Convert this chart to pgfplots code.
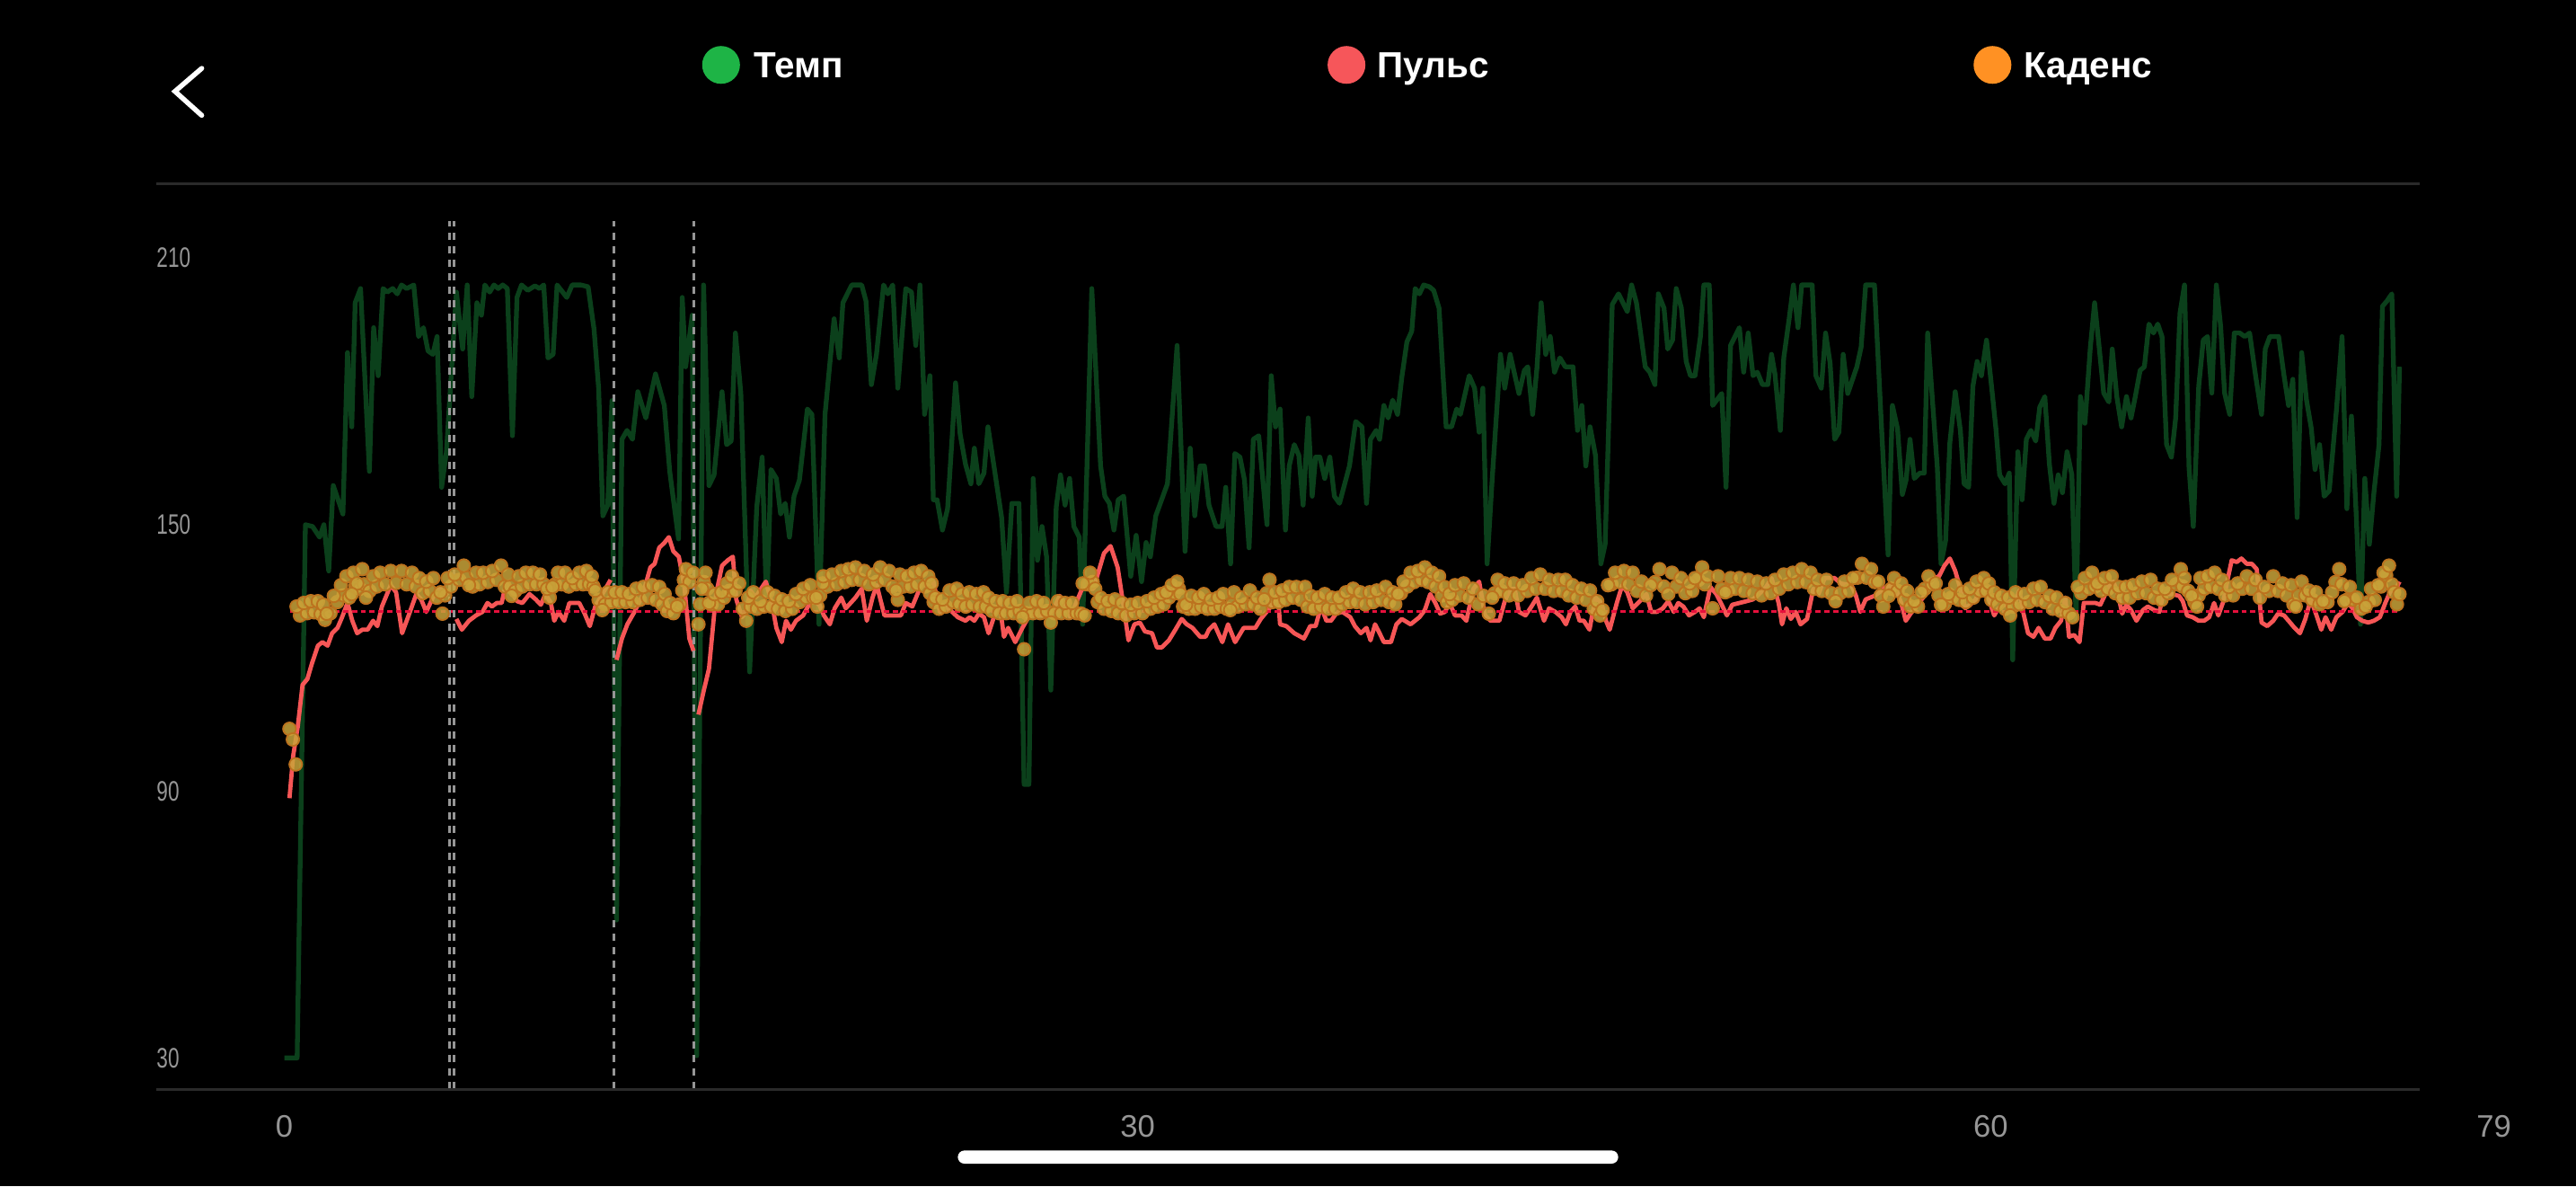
\documentclass[border=0pt]{standalone}
\usepackage{fontspec}
\setmainfont{Liberation Sans}
\usepackage{graphicx}
\usepackage{pgfplots}
\pgfplotsset{compat=1.18}
\usepackage{pgfplotstable}
\definecolor{tempo}{RGB}{11,64,27}
\definecolor{pulse}{RGB}{246,86,86}
\definecolor{cadfill}{RGB}{202,164,58}
\definecolor{cadedge}{RGB}{188,114,30}
\definecolor{lgreen}{RGB}{30,180,70}
\definecolor{lred}{RGB}{246,86,90}
\definecolor{lorange}{RGB}{255,145,35}
\definecolor{thr}{RGB}{230,16,60}
\definecolor{lap}{RGB}{150,150,150}
\definecolor{sep}{RGB}{42,42,42}
\definecolor{ticklab}{RGB}{150,150,150}

\pgfplotstableread{
x y
0.00 30.0
0.45 30.0
0.74 149.9
0.99 149.5
1.24 147.1
1.39 149.9
1.56 139.5
1.72 158.7
2.06 152.3
2.22 188.6
2.37 171.9
2.49 199.8
2.68 203.0
2.99 161.9
3.14 194.2
3.30 183.4
3.47 203.0
3.62 202.2
3.81 203.0
3.97 201.8
4.12 203.8
4.30 203.0
4.55 203.8
4.72 192.2
4.89 194.2
5.05 189.0
5.22 188.2
5.37 192.2
5.53 158.3
5.70 166.3
6.05 202.2
6.27 189.4
6.43 203.8
6.59 178.7
6.77 199.8
6.93 197.0
7.05 203.8
7.22 202.2
7.37 203.8
7.52 203.0
7.68 203.8
7.84 203.0
8.02 169.9
8.18 201.0
8.34 203.8
8.56 202.6
8.81 203.6
8.97 203.0
9.12 203.8
9.27 187.4
9.45 188.2
9.59 203.8
9.93 201.0
10.12 203.8
10.43 203.8
10.68 203.4
10.89 193.8
11.05 180.6
11.20 151.9
11.37 154.3
11.52 177.8
11.68 61.0
11.87 169.1
12.05 171.1
12.24 169.1
12.43 179.8
12.71 173.9
13.05 183.8
13.36 176.7
13.55 161.9
13.86 146.7
13.99 201.0
14.11 185.4
14.34 197.0
14.50 30.5
14.74 203.8
14.93 158.7
15.11 161.1
15.39 179.8
15.55 167.9
15.71 168.7
15.86 193.0
16.05 179.5
16.36 116.8
16.61 153.9
16.80 165.1
16.96 130.7
17.11 162.3
17.30 160.3
17.45 152.3
17.61 154.7
17.76 147.1
17.92 156.3
18.11 159.9
18.39 175.9
18.55 174.7
18.80 127.5
19.01 174.7
19.33 196.2
19.51 187.4
19.64 199.8
19.95 203.8
20.30 203.8
20.45 200.2
20.64 181.4
20.82 188.2
21.07 203.8
21.22 201.8
21.39 203.8
21.57 180.6
21.85 203.0
22.05 202.2
22.20 190.2
22.35 203.8
22.51 174.7
22.70 183.4
22.82 155.5
22.95 155.5
23.14 148.7
23.32 153.5
23.60 181.8
23.76 170.3
23.95 163.5
24.14 159.1
24.26 167.1
24.42 159.1
24.60 161.5
24.74 171.9
24.95 163.1
25.22 151.5
25.39 134.7
25.58 154.7
25.83 154.7
26.01 91.5
26.18 91.5
26.33 160.3
26.48 141.9
26.64 149.5
26.80 142.7
26.95 112.7
27.14 153.9
27.29 161.1
27.45 154.3
27.61 160.3
27.76 149.5
27.95 147.1
28.07 127.5
28.39 203.0
28.70 163.1
28.85 156.3
29.01 154.7
29.17 148.7
29.32 155.5
29.51 156.3
29.76 138.3
29.95 147.5
30.14 137.1
30.30 145.9
30.45 142.7
30.64 151.9
31.05 159.1
31.39 190.2
31.67 143.9
31.85 167.1
32.01 151.9
32.20 163.1
32.35 163.1
32.51 154.3
32.76 149.5
32.97 149.5
33.10 158.3
33.27 141.1
33.42 165.9
33.60 165.1
33.76 159.9
33.92 144.7
34.07 169.1
34.26 169.9
34.55 149.9
34.70 183.4
34.85 171.9
35.01 175.9
35.20 148.7
35.33 163.1
35.51 167.9
35.67 165.5
35.82 154.3
36.00 173.9
36.14 156.3
36.26 165.1
36.41 165.1
36.58 160.3
36.76 165.1
36.92 156.3
37.10 154.7
37.45 163.1
37.67 173.1
37.89 171.9
38.05 154.7
38.19 169.1
38.39 171.1
38.51 169.1
38.66 176.7
38.81 173.9
38.97 177.9
39.14 174.7
39.29 183.0
39.47 191.0
39.64 193.4
39.76 203.0
39.91 201.8
40.06 203.8
40.26 203.4
40.41 202.6
40.60 198.6
40.85 171.9
41.04 171.9
41.22 175.9
41.35 174.7
41.66 183.4
41.85 180.6
42.01 170.7
42.14 180.6
42.29 141.1
42.47 160.3
42.76 188.2
42.91 180.6
43.10 188.2
43.41 179.4
43.60 184.6
43.72 185.4
43.89 174.7
44.04 185.0
44.19 199.8
44.35 188.2
44.51 192.2
44.66 184.2
44.85 187.4
45.04 185.4
45.31 185.4
45.47 171.1
45.62 176.7
45.76 163.1
45.91 171.9
46.10 165.5
46.29 141.1
46.44 145.5
46.69 199.4
46.91 201.8
47.22 197.8
47.37 203.8
47.54 199.8
47.85 185.4
48.01 184.2
48.19 181.4
48.31 201.8
48.51 198.6
48.64 189.4
48.81 191.4
48.94 203.0
49.12 198.6
49.29 186.6
49.44 183.4
49.60 183.4
49.79 192.2
49.91 203.8
50.10 203.8
50.22 176.7
50.54 179.4
50.69 158.3
50.85 190.2
51.16 194.2
51.31 184.2
51.47 193.0
51.64 183.4
51.79 184.2
51.97 181.4
52.16 181.4
52.29 188.2
52.41 183.8
52.60 171.1
52.72 187.4
52.91 196.2
53.06 203.8
53.22 194.2
53.35 203.8
53.72 203.8
53.85 183.4
54.04 180.6
54.19 193.0
54.35 186.2
54.51 169.1
54.66 170.7
54.81 188.2
54.97 179.4
55.29 185.4
55.44 189.8
55.60 203.8
55.91 203.8
56.16 171.5
56.39 143.1
56.54 176.7
56.72 171.5
56.89 156.7
57.02 159.9
57.16 169.1
57.31 160.3
57.50 161.5
57.66 161.5
57.78 193.0
57.93 179.5
58.12 162.7
58.25 141.1
58.41 146.3
58.56 168.3
58.75 179.8
58.93 171.1
59.06 159.1
59.22 158.3
59.37 181.0
59.52 186.6
59.67 183.4
59.85 191.4
60.00 182.6
60.18 171.5
60.31 161.1
60.50 159.1
60.65 161.5
60.77 119.5
60.95 166.3
61.10 155.5
61.25 169.1
61.41 171.1
61.58 168.7
61.72 176.3
61.90 178.7
62.06 163.5
62.22 154.7
62.37 161.1
62.52 157.1
62.68 166.3
62.85 161.1
63.00 128.7
63.15 178.7
63.31 172.7
63.50 189.8
63.65 199.8
63.81 189.8
63.97 179.5
64.15 177.5
64.27 189.4
64.43 178.7
64.60 171.9
64.77 178.7
64.93 173.9
65.08 178.7
65.25 184.6
65.40 185.4
65.56 195.0
65.72 193.0
65.87 195.0
66.02 192.2
66.18 167.9
66.35 165.1
66.50 173.9
66.65 197.4
66.81 203.8
66.97 162.7
67.12 149.5
67.31 181.0
67.47 191.4
67.62 192.2
67.77 179.5
67.93 203.8
68.08 194.6
68.22 179.5
68.40 174.7
68.56 193.0
68.75 193.0
68.93 192.2
69.10 193.0
69.31 183.4
69.52 174.7
69.65 189.4
69.81 192.2
70.12 192.2
70.31 183.4
70.47 176.7
70.62 182.6
70.77 151.5
70.93 188.6
71.10 177.9
71.27 171.5
71.40 162.3
71.56 167.9
71.72 156.3
71.90 157.5
72.15 175.5
72.35 192.2
72.52 153.5
72.68 174.3
72.85 151.9
73.00 127.5
73.15 160.3
73.31 145.5
73.47 157.1
73.65 167.9
73.77 199.0
73.93 200.2
74.10 201.8
74.27 156.3
74.37 185.4
}\tempotab

\pgfplotstableread{
x y
0.18 88.4
0.31 97.9
0.47 104.4
0.64 113.9
0.81 115.2
0.97 118.7
1.18 122.7
1.34 123.5
1.52 122.7
1.68 125.5
1.87 126.7
2.03 129.1
2.22 132.3
2.39 128.3
2.56 125.5
2.74 126.3
2.93 126.3
3.12 128.3
3.27 127.1
3.43 131.5
3.74 136.3
3.93 134.7
4.14 125.5
4.37 129.5
4.64 134.3
4.81 133.1
4.99 130.3
5.22 133.5
5.37 135.1
5.49 135.5
5.74 133.9
5.86 nan
6.05 128.7
6.24 126.3
6.49 128.3
6.74 129.5
6.97 130.3
7.14 132.3
7.30 131.5
7.47 132.3
7.64 132.3
7.81 137.1
7.99 134.7
8.18 132.7
8.37 132.3
8.62 134.3
8.84 133.1
9.02 131.9
9.18 134.3
9.37 132.3
9.49 128.3
9.64 130.3
9.84 128.3
10.02 132.3
10.37 132.3
10.56 129.9
10.74 127.1
10.93 131.5
11.47 137.5
11.58 nan
11.68 119.5
11.87 124.3
12.06 127.5
12.31 130.3
12.59 133.9
12.87 140.3
13.02 141.1
13.18 144.7
13.37 145.9
13.52 147.1
13.68 143.9
13.87 142.7
14.06 136.3
14.24 124.3
14.39 121.5
14.45 nan
14.56 107.2
14.74 112.4
14.93 117.5
15.18 134.3
15.39 140.7
15.59 141.9
15.77 142.7
15.89 133.1
16.09 129.1
16.24 130.3
16.39 135.1
16.56 133.5
16.72 135.1
16.93 137.1
17.14 132.3
17.30 126.7
17.49 123.5
17.64 128.3
17.81 126.3
17.99 128.3
18.24 129.5
18.55 133.1
18.81 131.9
18.97 129.5
19.18 127.5
19.35 131.1
19.58 133.5
19.74 131.1
20.08 133.5
20.30 135.5
20.48 128.3
20.68 133.5
20.83 136.3
21.10 129.5
21.68 129.5
21.85 132.3
22.08 131.5
22.39 136.3
22.60 136.3
22.82 137.1
23.05 130.3
23.26 131.5
23.48 130.3
23.68 129.1
23.95 128.3
24.10 129.1
24.26 128.3
24.42 129.9
24.60 129.1
24.76 125.5
24.95 129.1
25.14 132.7
25.30 124.7
25.45 126.7
25.70 123.5
25.95 126.7
26.20 129.5
26.58 129.5
26.95 129.5
27.26 133.9
27.45 131.9
27.64 129.1
27.89 133.1
28.05 135.5
28.45 135.5
28.82 143.5
29.05 145.1
29.30 140.3
29.51 131.5
29.68 123.9
29.89 127.5
30.08 127.9
30.26 125.9
30.51 125.5
30.68 122.3
30.85 122.3
31.10 123.9
31.33 126.3
31.55 128.7
31.73 127.5
31.93 126.7
32.20 124.7
32.39 124.7
32.51 126.3
32.70 127.5
32.98 123.5
33.18 127.5
33.43 123.5
33.73 126.7
34.14 126.7
34.33 128.7
34.64 131.1
34.93 134.3
35.01 127.5
35.23 127.1
35.51 125.5
35.85 124.3
36.07 127.1
36.26 127.1
36.45 131.5
36.64 128.3
36.80 128.3
36.98 129.9
37.20 130.3
37.48 129.1
37.64 127.1
37.85 125.5
38.05 126.7
38.19 123.9
38.35 127.5
38.51 125.5
38.66 123.5
38.91 123.5
39.10 127.5
39.29 128.7
39.60 127.5
39.91 129.1
40.10 130.7
40.29 134.3
40.47 132.3
40.64 129.9
40.81 130.3
40.97 132.3
41.16 129.5
41.39 129.5
41.56 128.3
41.81 135.5
42.01 137.1
42.22 129.5
42.41 128.3
42.72 128.3
42.91 132.7
43.10 135.5
43.26 135.5
43.41 130.3
43.64 129.5
43.85 131.5
44.04 133.5
44.29 128.3
44.47 131.1
44.69 130.3
44.91 129.1
45.06 127.5
45.22 130.3
45.39 131.5
45.54 128.3
45.69 128.3
45.89 126.3
46.10 133.5
46.31 132.3
46.47 128.3
46.60 126.3
46.85 132.3
47.04 136.3
47.22 134.7
47.41 131.1
47.66 132.7
47.89 134.3
48.06 130.3
48.26 130.3
48.47 131.1
48.66 132.7
48.85 130.3
49.01 132.3
49.19 131.5
49.39 129.5
49.60 130.3
49.76 131.1
49.91 129.1
50.14 135.9
50.35 134.3
50.51 132.3
50.72 129.5
50.91 131.9
51.16 132.3
51.41 132.7
51.64 133.1
51.85 134.3
52.10 135.9
52.29 137.9
52.54 132.3
52.66 127.5
52.81 131.1
52.97 128.7
53.14 130.3
53.31 127.5
53.54 128.7
53.76 135.5
53.94 134.3
54.16 137.9
54.51 137.9
54.72 136.7
55.10 136.3
55.26 133.9
55.41 130.3
55.60 133.1
55.91 133.9
56.16 135.1
56.41 136.3
56.66 135.5
56.85 132.3
57.01 128.3
57.18 129.9
57.37 131.5
57.62 133.5
57.81 135.9
58.00 137.9
58.18 138.3
58.37 140.7
58.56 142.3
58.75 139.5
58.93 135.5
59.10 131.1
59.27 131.9
59.47 133.1
59.62 135.5
59.77 136.3
59.93 133.1
60.12 129.5
60.27 131.1
60.50 131.9
60.68 132.7
60.85 132.3
61.00 135.1
61.15 129.9
61.31 125.5
61.50 124.7
61.68 126.7
61.90 124.3
62.10 124.3
62.27 126.7
62.47 128.3
62.62 133.5
62.75 124.7
62.93 125.1
63.12 123.5
63.27 132.3
63.50 132.3
63.68 132.3
63.85 131.9
64.00 133.9
64.15 136.3
64.31 137.1
64.47 134.3
64.62 129.9
64.77 131.9
64.93 130.7
65.12 128.3
65.35 130.7
65.52 131.5
65.75 130.7
65.93 130.3
66.06 134.3
66.37 134.3
66.62 133.9
66.75 132.7
66.90 129.5
67.10 129.1
67.31 128.3
67.50 128.3
67.68 129.1
67.85 132.3
68.00 129.5
68.18 132.7
68.31 137.1
68.47 141.9
68.65 141.5
68.81 142.3
69.00 141.1
69.18 141.1
69.35 139.9
69.52 127.9
69.72 127.1
69.93 128.3
70.10 129.9
70.31 129.5
70.47 128.3
70.68 126.7
70.87 125.5
71.06 128.7
71.25 133.1
71.43 129.9
71.62 126.3
71.77 129.1
71.97 126.3
72.15 129.1
72.37 130.3
72.56 132.3
72.72 131.1
72.87 129.1
73.06 128.3
73.27 127.9
73.47 128.3
73.68 129.1
73.87 132.3
74.06 135.1
74.22 135.1
74.37 137.1
}\pulsetab

\pgfplotstableread{
x y
0.18 104.0
0.30 101.6
0.40 96.0
0.43 131.5
0.68 132.3
0.93 132.7
1.18 132.7
1.37 131.9
1.49 129.9
1.74 133.9
1.99 136.3
2.18 138.3
2.43 139.1
2.74 139.9
2.56 136.7
2.37 134.3
2.87 133.5
3.12 138.3
3.37 139.1
3.74 139.5
4.12 139.5
4.49 139.1
4.74 137.9
4.99 137.1
5.24 137.9
5.49 134.7
5.56 129.9
5.74 137.9
5.99 138.7
6.31 140.7
6.49 136.3
6.74 139.1
6.99 139.1
7.31 139.5
7.62 140.7
7.87 138.7
7.99 133.9
8.24 138.3
8.49 139.1
8.74 139.1
8.99 138.7
9.24 135.5
9.43 135.9
9.62 139.1
9.87 139.1
10.12 137.9
10.37 139.1
10.62 139.5
10.81 138.3
10.93 135.1
11.18 130.7
11.37 134.7
11.62 134.7
11.87 134.7
12.12 134.3
12.37 135.5
12.62 135.9
12.93 136.3
13.18 135.9
13.37 134.3
13.56 132.3
13.81 131.5
13.99 135.1
14.12 139.9
14.37 139.1
14.56 127.5
14.68 135.5
14.81 139.1
14.93 132.3
15.12 134.3
15.37 134.7
15.56 136.7
15.74 138.3
15.99 136.7
16.24 128.3
16.31 133.5
16.49 134.7
16.74 132.7
16.99 134.7
17.24 133.9
17.49 133.1
17.74 132.7
17.99 134.3
18.24 135.5
18.49 136.3
18.74 131.5
18.93 136.7
18.70 133.5
18.95 138.3
19.26 138.7
19.58 139.5
19.83 139.9
20.08 140.3
20.39 139.5
20.70 138.7
20.95 140.3
21.26 139.5
21.51 135.1
21.64 138.7
21.89 138.3
22.14 139.1
22.39 139.5
22.64 138.3
22.76 136.7
22.89 133.5
23.14 133.1
23.39 135.1
23.64 135.5
23.83 134.3
24.08 134.7
24.33 134.3
24.58 134.7
24.76 133.5
25.01 132.7
25.26 132.7
25.51 132.3
25.76 132.7
25.95 129.1
26.01 121.9
26.20 132.3
26.45 132.7
26.70 132.3
26.95 127.9
27.20 132.7
27.45 132.3
27.70 132.3
28.01 129.9
28.14 129.5
28.07 136.7
28.33 139.1
28.51 135.5
28.70 133.5
28.95 132.7
29.20 133.1
29.45 132.3
29.76 131.9
30.01 132.3
30.33 132.7
30.58 133.5
30.83 134.3
31.01 134.7
31.20 136.3
31.39 137.1
31.51 134.3
31.70 131.9
31.89 133.9
32.14 133.5
32.33 134.3
32.58 133.1
32.83 133.5
33.01 134.3
33.26 130.7
33.39 134.7
33.64 133.5
33.95 135.1
34.20 133.5
34.45 133.1
34.64 137.5
34.83 134.7
35.08 135.1
35.33 135.9
35.58 135.9
35.89 135.9
36.08 133.9
36.33 133.5
36.58 134.3
36.83 133.5
37.08 133.5
37.33 134.7
37.58 135.5
37.83 134.7
38.16 134.7
38.41 135.1
38.72 135.9
38.97 134.7
39.16 134.3
39.35 137.1
39.60 139.1
39.85 139.5
40.10 140.3
40.35 139.1
40.60 138.3
40.79 135.9
40.97 134.3
41.16 136.3
41.47 136.7
41.79 135.5
42.16 133.9
42.35 129.9
42.47 133.5
42.66 137.5
42.91 136.7
43.22 136.7
43.54 136.3
43.85 137.9
44.16 138.7
44.47 137.5
44.79 137.5
45.04 137.5
45.29 136.3
45.60 135.5
45.91 135.1
46.16 132.7
46.35 130.7
46.54 136.3
46.79 139.1
47.10 139.5
47.41 139.1
47.72 137.1
48.04 136.3
48.35 139.9
48.66 134.3
48.79 139.1
49.10 137.9
49.41 136.7
49.60 137.9
49.85 140.3
50.04 138.3
50.22 131.1
50.41 138.3
50.66 134.7
50.85 137.9
51.16 137.9
51.47 137.5
51.79 137.1
52.10 136.7
52.41 137.5
52.72 138.7
53.04 139.1
53.35 139.9
53.66 139.1
53.91 137.5
54.22 137.5
54.54 132.7
54.85 137.1
55.16 137.9
55.47 141.1
55.79 139.9
56.04 137.1
56.22 131.5
56.41 133.9
56.60 137.9
56.85 136.7
57.06 135.0
57.31 132.7
57.56 134.7
57.81 138.3
58.06 136.7
58.25 131.9
58.50 134.3
58.75 136.3
59.00 134.7
59.25 135.5
59.50 137.1
59.75 137.9
59.93 136.7
60.12 134.7
60.37 133.9
60.68 129.5
60.62 133.5
60.87 134.7
61.18 134.3
61.50 135.5
61.75 135.9
62.06 133.9
62.31 133.5
62.62 132.3
62.87 129.1
63.06 135.9
63.31 137.9
63.56 139.1
63.75 136.7
64.00 137.9
64.25 138.3
64.50 135.9
64.75 135.9
65.00 136.3
65.31 137.1
65.62 137.5
65.87 135.5
66.12 135.5
66.37 137.5
66.68 139.9
66.81 137.9
67.06 133.9
67.25 131.5
67.37 137.9
67.62 138.3
67.87 139.1
68.12 137.5
68.37 135.9
68.68 136.7
69.00 138.3
69.31 137.5
69.62 135.9
69.93 138.3
70.25 136.7
70.56 136.3
70.72 131.5
70.93 137.1
71.18 135.1
71.43 134.7
71.68 132.7
72.00 134.7
72.25 139.9
72.43 132.7
72.62 135.9
72.87 133.5
73.18 131.5
73.37 135.5
73.62 136.3
73.81 139.1
74.00 140.7
74.18 134.7
74.37 134.3
}\cadtab

\pgfplotstableread{
x y
0.55 129.5
0.80 130.0
1.05 130.2
1.28 129.8
1.43 128.5
1.62 130.0
1.86 132.5
2.08 134.0
2.28 133.5
2.50 136.0
2.65 135.5
2.80 136.5
3.00 135.0
3.25 136.0
3.55 136.5
3.93 136.8
4.30 136.5
4.62 136.0
4.86 134.5
5.12 135.0
5.36 133.5
5.65 134.0
5.86 136.0
6.15 137.5
6.40 138.0
6.62 136.0
6.86 136.5
7.15 137.0
7.46 137.5
7.75 136.0
7.93 136.0
8.12 135.0
8.36 136.0
8.62 136.5
8.86 136.5
9.12 136.5
9.33 133.5
9.52 136.5
9.75 136.5
10.00 136.0
10.25 136.5
10.50 136.5
10.72 136.5
10.87 136.0
11.05 133.0
11.28 132.0
11.50 132.5
11.75 132.5
12.00 132.5
12.25 132.5
12.50 133.0
12.78 133.5
13.05 133.0
13.28 132.0
13.46 130.5
13.68 130.0
13.90 132.0
14.05 137.5
14.25 137.0
14.62 132.0
14.75 137.0
14.87 135.5
15.02 132.0
15.25 132.0
15.46 133.5
15.65 135.0
15.86 135.0
16.12 131.0
16.40 131.5
16.62 131.0
16.86 131.5
17.12 131.5
17.36 131.0
17.62 130.5
17.86 131.0
18.12 132.5
18.36 133.5
18.60 133.5
18.84 134.0
19.10 136.0
19.42 136.5
19.70 137.0
19.95 137.5
20.24 137.5
20.55 136.5
20.82 137.0
21.10 137.5
21.38 136.0
21.57 133.0
21.76 136.0
22.02 136.0
22.26 136.5
22.52 136.0
22.70 134.5
22.83 132.5
23.02 131.0
23.26 131.5
23.52 132.5
23.74 132.0
23.96 131.5
24.20 132.0
24.46 131.5
24.67 131.5
24.88 130.5
25.14 130.0
25.38 130.0
25.64 130.0
25.86 130.5
26.10 130.0
26.32 130.0
26.58 130.0
26.82 130.5
27.08 130.0
27.32 130.0
27.58 130.0
27.86 130.0
28.24 136.5
28.42 137.0
28.60 132.5
28.82 131.0
29.08 130.5
29.32 130.0
29.60 129.5
29.88 130.0
30.17 130.0
30.45 131.0
30.70 131.5
30.92 132.0
31.10 133.5
31.30 134.5
31.45 135.5
31.60 131.5
31.80 131.0
32.02 131.0
32.24 131.5
32.46 131.0
32.70 131.0
32.92 131.5
33.14 131.0
33.32 132.0
33.52 131.5
33.80 132.0
34.08 132.0
34.32 131.0
34.54 134.5
34.74 132.5
34.96 132.5
35.20 133.0
35.46 133.5
35.74 133.0
35.98 131.5
36.20 131.0
36.46 131.5
36.70 131.0
36.96 131.0
37.20 132.0
37.46 132.5
37.70 132.5
38.00 132.0
38.28 132.5
38.56 133.0
38.84 132.5
39.06 132.0
39.26 134.5
39.48 136.0
39.72 137.0
39.98 137.5
40.22 137.0
40.48 136.0
40.70 134.0
40.88 132.5
41.06 133.0
41.32 134.0
41.63 133.5
41.98 132.0
42.56 134.5
42.78 135.0
43.06 134.0
43.38 134.0
43.70 135.0
44.00 135.5
44.32 135.5
44.63 135.0
44.92 135.0
45.16 134.0
45.44 133.5
45.76 133.0
46.04 131.0
46.26 129.5
46.66 136.5
46.94 137.0
47.26 136.5
47.56 135.0
47.88 134.0
48.20 137.0
48.50 136.0
48.94 136.0
49.26 134.5
49.50 135.0
49.72 137.5
49.94 136.5
50.54 135.5
50.76 135.0
51.00 135.5
51.32 135.0
51.63 134.5
51.94 134.0
52.26 134.5
52.56 135.5
52.88 136.5
53.20 137.0
53.50 137.0
53.78 135.5
54.06 135.0
54.38 134.5
54.70 134.5
55.00 135.0
55.32 138.0
55.63 138.0
55.92 137.0
56.13 134.0
56.50 135.5
56.72 135.0
56.96 133.0
57.18 131.5
57.44 131.5
57.68 135.5
57.94 136.5
58.16 134.0
58.38 132.0
58.62 133.5
58.88 133.0
59.12 132.5
59.38 133.5
59.62 135.0
59.84 135.0
60.02 133.0
60.24 132.0
60.50 131.0
60.78 131.5
61.02 132.0
61.34 132.5
61.62 133.0
61.90 132.5
62.18 131.0
62.46 130.5
62.74 130.0
63.18 134.5
63.44 135.5
63.66 136.0
63.88 135.0
64.12 135.5
64.38 134.5
64.62 133.5
64.88 133.5
65.16 134.5
65.46 134.5
65.74 133.5
66.00 133.0
66.24 134.5
66.52 136.5
66.74 136.0
66.94 135.0
67.16 132.5
67.31 134.0
67.50 135.5
67.74 136.0
68.00 135.5
68.24 134.0
68.52 134.0
68.84 135.5
69.16 135.5
69.46 133.5
69.78 135.0
70.10 135.0
70.40 134.0
70.64 132.0
70.82 134.0
71.06 134.0
71.30 133.0
71.56 132.0
71.84 132.5
72.12 137.0
72.34 136.5
72.52 133.0
72.74 133.0
73.02 131.0
73.28 132.5
73.50 133.0
73.72 136.0
73.90 138.5
74.10 136.5
74.28 132.0
}\cadtabb

\begin{document}
\begin{tikzpicture}[x=1bp,y=1bp]
\fill[black] (0,0) rectangle (784,360.85);
\begin{axis}[
  at={(47.5bp,29.5bp)}, anchor=south west,
  scale only axis, width=689bp, height=275.5bp,
  xmin=-4.51, xmax=75.09, ymin=22.98, ymax=226.6,
  axis line style={draw=none},
  xtick={0,30,60}, ytick={30,90,150,210},
  major tick length=0pt, tick style={draw=none},
  /pgf/number format/assume math mode=true,
  xticklabel style={font=\fontsize{9.5}{10}\selectfont, text=ticklab, anchor=base, inner sep=0pt, yshift=-14.5bp},
  yticklabel style={font=\fontsize{8.6}{9}\selectfont, text=ticklab, anchor=west, inner sep=0pt},
  yticklabel={\scalebox{0.72}[1]{\pgfmathprintnumber{\tick}}},
  unbounded coords=jump,
  clip=false,
]
\addplot[tempo, line width=1.45bp, line join=round] table {\tempotab};
\addplot[only marks, mark=*, mark size=1.95bp,
  mark options={fill=cadfill, draw=cadedge, line width=0.5bp, fill opacity=0.85}] table {\cadtabb};
\addplot[only marks, mark=*, mark size=1.95bp,
  mark options={fill=cadfill, draw=cadedge, line width=0.5bp, fill opacity=0.85}] table {\cadtab};
\addplot[pulse, line width=1.3bp, line join=round, unbounded coords=jump] table {\pulsetab};
\addplot[thr, line width=0.6bp, dash pattern=on 1.6bp off 1.1bp] coordinates {(0.19,130.4) (74.37,130.4)};
\addplot[lap, line width=0.7bp, dash pattern=on 2.3bp off 1.8bp] coordinates {(5.80,22.98) (5.80,218.1)};
\addplot[lap, line width=0.7bp, dash pattern=on 2.3bp off 1.8bp] coordinates {(5.97,22.98) (5.97,218.1)};
\addplot[lap, line width=0.7bp, dash pattern=on 2.3bp off 1.8bp] coordinates {(11.59,22.98) (11.59,218.1)};
\addplot[lap, line width=0.7bp, dash pattern=on 2.3bp off 1.8bp] coordinates {(14.40,22.98) (14.40,218.1)};
\draw[sep, line width=0.8bp] (rel axis cs:0,0) -- (rel axis cs:1,0);
\draw[sep, line width=0.8bp] (rel axis cs:0,1) -- (rel axis cs:1,1);
\end{axis}
\node[anchor=base, inner sep=0pt, text=ticklab, font=\fontsize{9.5}{10}\selectfont] at (759,15.05) {79};
% legend
\fill[lgreen] (219.45,341.1) circle (5.75);
\node[anchor=base west, inner sep=0pt, text=white, font=\bfseries\fontsize{11.1}{12}\selectfont] at (229.35,337.15) {Темп};
\fill[lred] (409.8,341.1) circle (5.75);
\node[anchor=base west, inner sep=0pt, text=white, font=\bfseries\fontsize{11.1}{12}\selectfont] at (419.05,337.15) {Пульс};
\fill[lorange] (606.4,341.1) circle (5.75);
\node[anchor=base west, inner sep=0pt, text=white, font=\bfseries\fontsize{11.1}{12}\selectfont] at (615.8,337.15) {Каденс};
% back chevron
\draw[white, line width=1.5bp, line cap=round, line join=miter] (61.4,340.05) -- (53.25,333.05) -- (61.4,325.75);
% home indicator
\fill[white, rounded corners=2bp] (291.5,6.85) rectangle (492.5,10.85);
\end{tikzpicture}
\end{document}
